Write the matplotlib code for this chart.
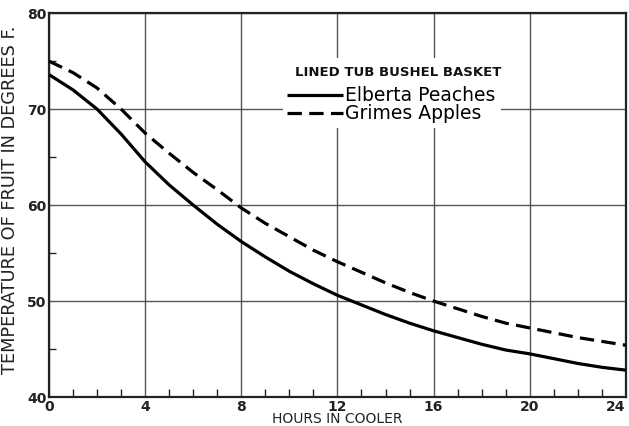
import matplotlib
matplotlib.use("Agg")
import matplotlib.pyplot as plt
from matplotlib.ticker import MultipleLocator

hours = list(range(0, 25))
peaches = [73.6, 72.0, 70.0, 67.4, 64.5, 62.1, 60.0, 58.0, 56.2, 54.6, 53.1, 51.8, 50.6,
           49.6, 48.6, 47.7, 46.9, 46.2, 45.5, 44.9, 44.5, 44.0, 43.5, 43.1, 42.8]
apples = [75.0, 73.8, 72.2, 70.0, 67.5, 65.4, 63.4, 61.6, 59.7, 58.1, 56.7, 55.3, 54.1,
          53.0, 51.9, 50.9, 50.0, 49.2, 48.4, 47.7, 47.2, 46.7, 46.2, 45.8, 45.4]
xticks = [0, 4, 8, 12, 16, 20, 24]
yticks = [40, 50, 60, 70, 80]
legend_title = "LINED TUB BUSHEL BASKET"

fig = plt.figure(figsize=(6.29, 4.26), dpi=100)
ax = fig.add_axes([0.078, 0.068, 0.917, 0.901])

ax.plot(hours, peaches, color="black", lw=2.3, solid_capstyle="butt",
        label="Elberta Peaches", zorder=3)
ax.plot(hours, apples, color="black", lw=2.3, dashes=(4.5, 2.3),
        label="Grimes Apples", zorder=3)

ax.set_xlim(0, 24)
ax.set_ylim(40, 80)
ax.set_xticks(xticks)
ax.set_yticks(yticks)
ax.xaxis.set_minor_locator(MultipleLocator(1))
ax.yaxis.set_minor_locator(MultipleLocator(5))
ax.tick_params(which="major", length=0, labelsize=10, pad=2)
ax.tick_params(axis="x", which="minor", direction="in", length=6, width=1, color="#222222")
ax.tick_params(axis="y", which="minor", direction="in", length=5, width=1, color="#222222")
for lab in ax.get_xticklabels() + ax.get_yticklabels():
    lab.set_fontweight("bold")
    lab.set_color("#222222")
ax.get_xticklabels()[-1].set_horizontalalignment("right")
ax.grid(True, which="major", color="#555555", lw=1.0)
for s in ax.spines.values():
    s.set_linewidth(1.6)
    s.set_color("#222222")

ax.set_xlabel("HOURS IN COOLER", fontsize=10, labelpad=-1, color="#222222")
ax.set_ylabel("TEMPERATURE OF FRUIT IN DEGREES F.", fontsize=12.8, color="#222222")
ax.yaxis.set_label_coords(-0.052, 0.513)

leg = ax.legend(loc="upper left", bbox_to_anchor=(0.405, 0.822), frameon=True,
                fancybox=False, edgecolor="none", facecolor="white", framealpha=1,
                fontsize=13.5, handlelength=2.95, handletextpad=0.15,
                labelspacing=-0.05, borderpad=0.25, borderaxespad=0)
leg.set_zorder(5)
ax.text(0.426, 0.845, legend_title, transform=ax.transAxes, fontsize=9.5,
        fontweight="bold", color="#111111", va="center", ha="left", zorder=4,
        bbox=dict(facecolor="white", edgecolor="none", pad=6))

fig.savefig("out.png", dpi=100, facecolor="white")
